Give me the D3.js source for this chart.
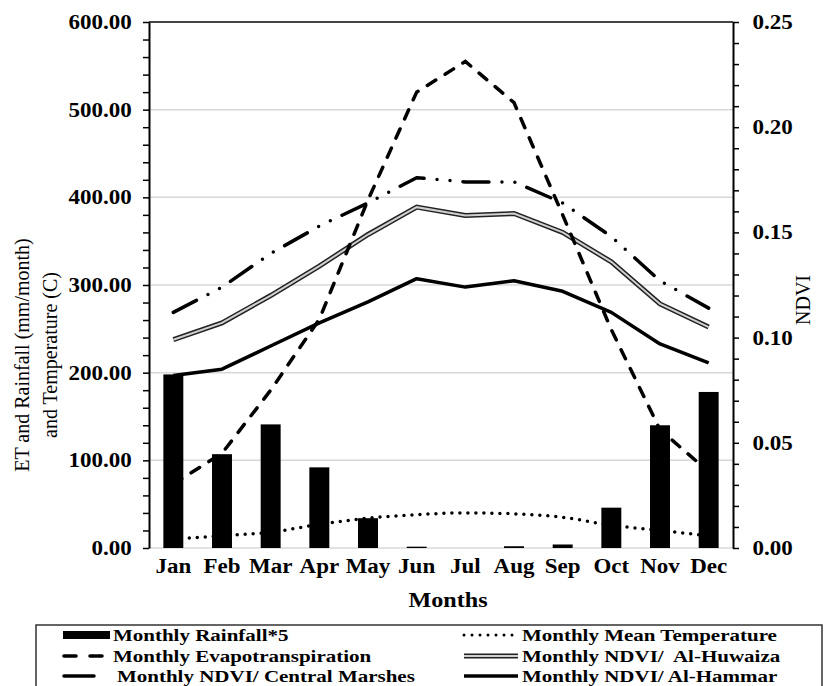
<!DOCTYPE html>
<html>
<head>
<meta charset="utf-8">
<style>
  body { margin: 0; background: #fff; }
  text { font-family: "Liberation Serif", "Times New Roman", serif; fill: #000; white-space: pre; }
</style>
</head>
<body>
<svg id="chart" width="839" height="686"></svg>
<script src="https://d3js.org/d3.v7.min.js"></script>
<script>
var months = ["Jan", "Feb", "Mar", "Apr", "May", "Jun", "Jul", "Aug", "Sep", "Oct", "Nov", "Dec"];
var rainfall5 = [198, 107, 141, 92, 34, 1.5, 0, 2, 4, 46, 140, 178];
var et = [73, 108, 180, 261, 397, 520, 555, 508, 380, 249, 135, 87];
var temperature = [10, 14, 18, 27, 34, 38, 40, 39, 35, 26, 20, 14];
var ndviCentral = [0.112, 0.124, 0.140, 0.153, 0.164, 0.176, 0.174, 0.174, 0.164, 0.148, 0.127, 0.114];
var ndviHuwaiza = [0.099, 0.107, 0.120, 0.134, 0.149, 0.162, 0.158, 0.159, 0.150, 0.136, 0.116, 0.105];
var ndviHammar = [0.082, 0.085, 0.096, 0.107, 0.117, 0.128, 0.124, 0.127, 0.122, 0.112, 0.097, 0.088];

var svg = d3.select("#chart");
var plotL = 149, plotR = 733, plotT = 22, plotB = 548;
var sx = 1.15; // the original figure is stretched sideways

var x = d3.scaleBand().domain(months).range([plotL, plotR]);
var y = d3.scaleLinear().domain([0, 600]).range([plotB, plotT]);
var y2 = d3.scaleLinear().domain([0, 0.25]).range([plotB, plotT]);
var cx = function(m) { return x(m) + x.bandwidth() / 2; };

// gridlines
svg.append("g").selectAll("line")
    .data(d3.range(0, 501, 100))
    .join("line")
    .attr("x1", plotL).attr("x2", plotR)
    .attr("y1", d => y(d)).attr("y2", d => y(d))
    .attr("stroke", "#d8d8d8").attr("stroke-width", 1.5);

// top border
svg.append("line")
    .attr("x1", plotL).attr("x2", plotR).attr("y1", plotT).attr("y2", plotT)
    .attr("stroke", "#444").attr("stroke-width", 2);

// rainfall bars
var barW = x.bandwidth() * 0.41;
svg.append("g").selectAll("rect")
    .data(months)
    .join("rect")
    .attr("x", (d) => cx(d) - barW / 2)
    .attr("y", (d, i) => y(rainfall5[i]))
    .attr("width", barW)
    .attr("height", (d, i) => plotB - y(rainfall5[i]))
    .attr("fill", "#000");

function lineOn(scale, curve) {
    return d3.line()
        .x((d, i) => cx(months[i]))
        .y(d => scale(d))
        .curve(curve || d3.curveLinear);
}

// temperature (dotted)
svg.append("path").datum(temperature)
    .attr("d", lineOn(y, d3.curveMonotoneX))
    .attr("fill", "none").attr("stroke", "#000").attr("stroke-width", 3.5)
    .attr("stroke-linecap", "round").attr("stroke-dasharray", "0,8");

// NDVI central marshes (dash dot dot)
svg.append("path").datum(ndviCentral)
    .attr("d", lineOn(y2))
    .attr("fill", "none").attr("stroke", "#000").attr("stroke-width", 3.5)
    .attr("stroke-linecap", "round").attr("stroke-dasharray", "26,13,0,13,0,13");

// NDVI Al-Huwaiza (double line)
svg.append("path").datum(ndviHuwaiza)
    .attr("d", lineOn(y2))
    .attr("fill", "none").attr("stroke", "#222").attr("stroke-width", 5);
svg.append("path").datum(ndviHuwaiza)
    .attr("d", lineOn(y2))
    .attr("fill", "none").attr("stroke", "#d0d0d0").attr("stroke-width", 2);

// NDVI Al-Hammar
svg.append("path").datum(ndviHammar)
    .attr("d", lineOn(y2))
    .attr("fill", "none").attr("stroke", "#000").attr("stroke-width", 3.5)
    .attr("stroke-linejoin", "round");

// evapotranspiration (dashed)
svg.append("path").datum(et)
    .attr("d", lineOn(y))
    .attr("fill", "none").attr("stroke", "#000").attr("stroke-width", 3.5)
    .attr("stroke-linecap", "round").attr("stroke-dasharray", "10,11");

// axes
var yAxis = d3.axisLeft(y)
    .tickValues(d3.range(0, 601, 20))
    .tickFormat(d => d % 100 === 0 ? d3.format(".2f")(d) : "")
    .tickSize(6).tickSizeOuter(0).tickPadding(9);
var gy = svg.append("g").attr("transform", "translate(" + plotL + ",0)").call(yAxis);

var y2Axis = d3.axisRight(y2)
    .tickValues(d3.range(0, 26).map(d => d / 100))
    .tickFormat(d => Math.round(d * 100) % 5 === 0 ? d3.format(".2f")(d) : "")
    .tickSize(6).tickSizeOuter(0).tickPadding(11);
var gy2 = svg.append("g").attr("transform", "translate(" + plotR + ",0)").call(y2Axis);

var xAxis = d3.axisBottom(x).tickSize(0).tickPadding(11);
var gx = svg.append("g").attr("transform", "translate(0," + plotB + ")").call(xAxis);
gx.select(".domain").remove();

[gy, gy2].forEach(function(g) {
    g.select(".domain").attr("stroke", "#000").attr("stroke-width", 2);
    g.selectAll(".tick line").attr("stroke", "#000").attr("stroke-width", 1.5);
});
[gy, gy2, gx].forEach(function(g) {
    g.selectAll("text")
        .attr("font-family", "Liberation Serif")
        .attr("font-weight", "bold")
        .attr("font-size", 20)
        .attr("fill", "#000")
        .attr("transform", "scale(" + sx + ",1)");
});

// axis titles
svg.append("text")
    .attr("transform", "translate(29,355) rotate(-90)")
    .attr("text-anchor", "middle")
    .attr("font-size", 20)
    .text("ET and Rainfall (mm/month)");
svg.append("text")
    .attr("transform", "translate(57,355) rotate(-90)")
    .attr("text-anchor", "middle")
    .attr("font-size", 20)
    .text("and Temperature (C)");
svg.append("text")
    .attr("transform", "translate(810,300) rotate(-90)")
    .attr("text-anchor", "middle")
    .attr("font-size", 20)
    .text("NDVI");
svg.append("text")
    .attr("transform", "translate(448,607) scale(" + sx + ",1)")
    .attr("text-anchor", "middle")
    .attr("font-size", 21)
    .attr("font-weight", "bold")
    .text("Months");

// legend
var legend = svg.append("g");
legend.append("rect")
    .attr("x", 36).attr("y", 625).attr("width", 786).attr("height", 75)
    .attr("fill", "none").attr("stroke", "#333").attr("stroke-width", 1.5);

var legendItems = [
    { label: "Monthly Rainfall*5", col: 0, row: 0, kind: "bar" },
    { label: "Monthly Mean Temperature", col: 1, row: 0, kind: "dot" },
    { label: "Monthly Evapotranspiration", col: 0, row: 1, kind: "dash" },
    { label: "Monthly NDVI/  Al-Huwaiza", col: 1, row: 1, kind: "double" },
    { label: "Monthly NDVI/ Central Marshes", col: 0, row: 2, kind: "long" },
    { label: "Monthly NDVI/ Al-Hammar", col: 1, row: 2, kind: "solid" }
];
var colX = [62, 462], rowY = [635, 656, 676];

legendItems.forEach(function(it) {
    var x0 = colX[it.col], yy = rowY[it.row], x1 = x0 + 48;
    var g = legend.append("g");
    if (it.kind === "bar") {
        g.append("rect").attr("x", x0 + 1).attr("y", yy - 4).attr("width", 47).attr("height", 8).attr("fill", "#000");
    } else if (it.kind === "dot") {
        g.append("line").attr("x1", x0 + 2).attr("x2", x1 + 8).attr("y1", yy).attr("y2", yy)
            .attr("stroke", "#000").attr("stroke-width", 3).attr("stroke-linecap", "round").attr("stroke-dasharray", "0,8");
    } else if (it.kind === "dash") {
        g.append("line").attr("x1", x0 + 2).attr("x2", x1).attr("y1", yy).attr("y2", yy)
            .attr("stroke", "#000").attr("stroke-width", 3.5).attr("stroke-linecap", "round").attr("stroke-dasharray", "12,14");
    } else if (it.kind === "long") {
        g.append("line").attr("x1", x0 + 2).attr("x2", x0 + 32).attr("y1", yy).attr("y2", yy)
            .attr("stroke", "#000").attr("stroke-width", 3.5).attr("stroke-linecap", "round");
    } else if (it.kind === "double") {
        g.append("line").attr("x1", x0 + 2).attr("x2", x1 + 8).attr("y1", yy).attr("y2", yy)
            .attr("stroke", "#222").attr("stroke-width", 5);
        g.append("line").attr("x1", x0 + 2).attr("x2", x1 + 8).attr("y1", yy).attr("y2", yy)
            .attr("stroke", "#d0d0d0").attr("stroke-width", 2);
    } else {
        g.append("line").attr("x1", x0 + 2).attr("x2", x1 + 8).attr("y1", yy).attr("y2", yy)
            .attr("stroke", "#000").attr("stroke-width", 3.5);
    }
    var tx = it.col === 0 ? (it.kind === "long" ? 117 : 113) : 522;
    g.append("text")
        .attr("transform", "translate(" + tx + "," + (yy + 6) + ") scale(1.2,1)")
        .attr("font-size", 17.5)
        .attr("font-weight", "bold")
        .text(it.label);
});
</script>
</body>
</html>
